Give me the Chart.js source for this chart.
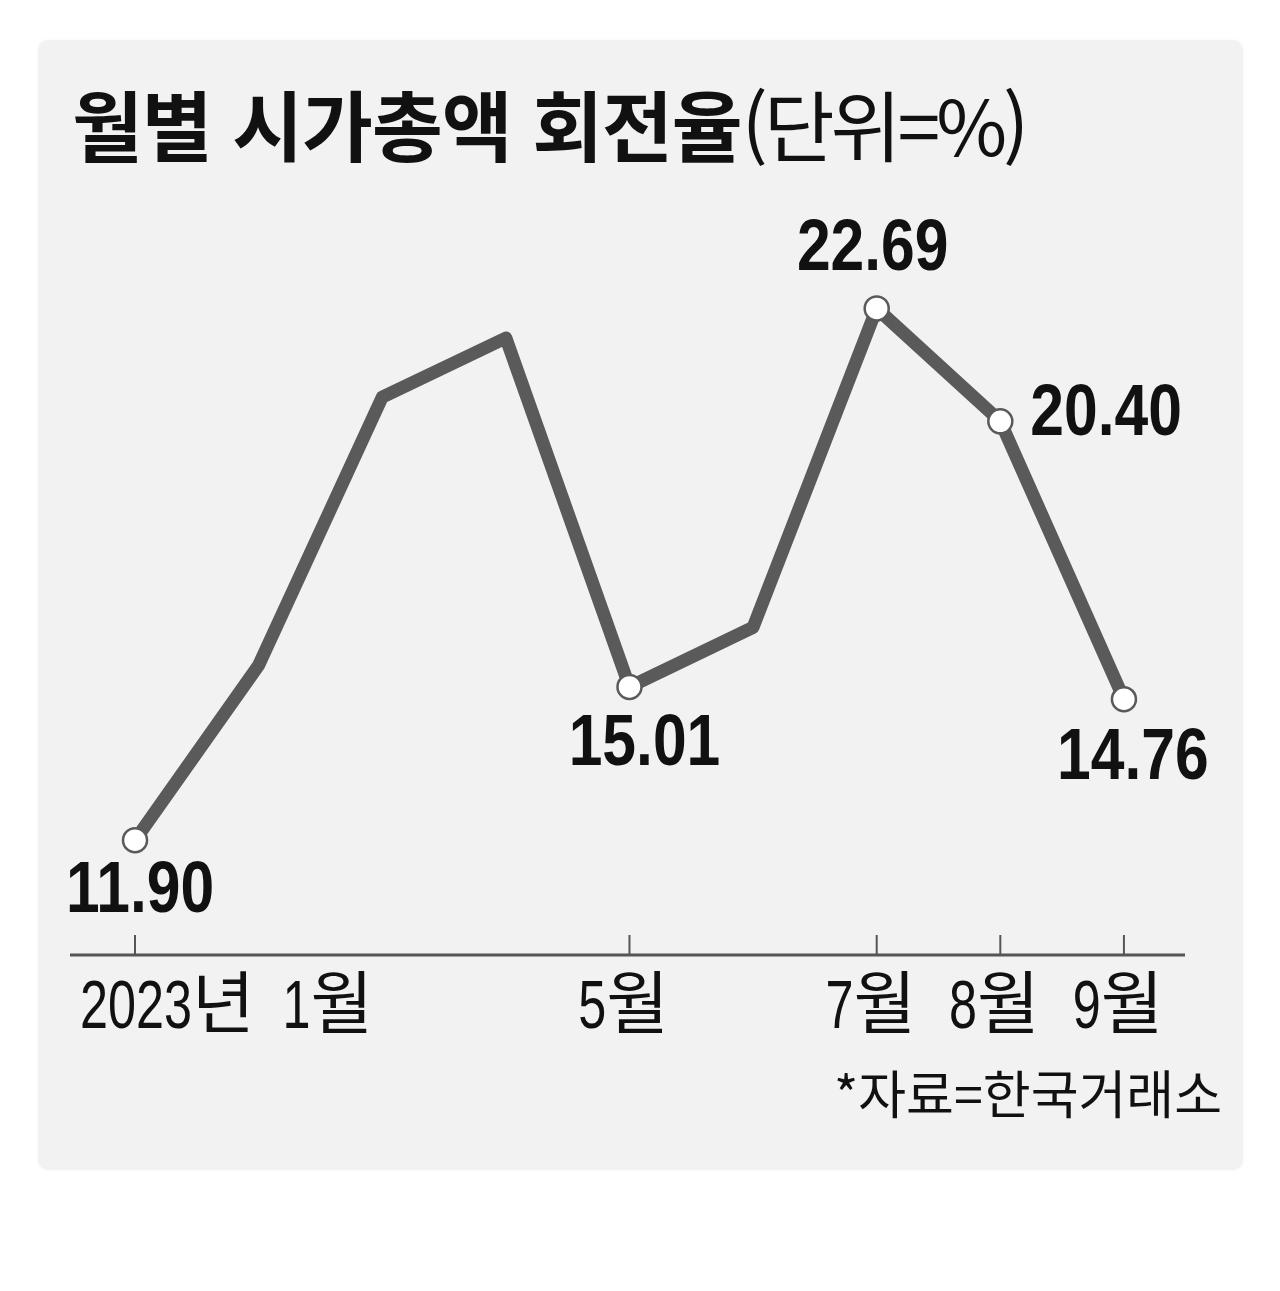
<!DOCTYPE html>
<html lang="ko">
<head>
<meta charset="utf-8">
<title>월별 시가총액 회전율</title>
<script src="https://cdn.jsdelivr.net/npm/chart.js@4"></script>
<style>
  html, body { margin: 0; padding: 0; background: #fff; }
  #wrap { position: relative; width: 1280px; height: 1291px; overflow: hidden; }
  #panel {
    position: absolute; left: 38px; top: 40px; width: 1205px; height: 1130px;
    background: #f2f2f2; border-radius: 10px; box-shadow: 0 0 4px #f6f6f6;
  }
  #title {
    position: absolute; left: 72px; top: 84px; margin: 0;
    font-family: "Noto Sans CJK KR", sans-serif; font-size: 77px; line-height: 1;
    font-weight: 700; color: #111; white-space: nowrap; letter-spacing: -1px;
  }
  #title span { font-weight: 400; letter-spacing: -4px; }
  #source {
    position: absolute; right: 58px; top: 1066px;
    font-family: "Noto Sans CJK KR", sans-serif; font-size: 52px; line-height: 1;
    color: #111; white-space: nowrap;
  }
  #chart { position: absolute; left: 0; top: 0; }
</style>
</head>
<body>
<div id="wrap">
  <div id="panel"></div>
  <h1 id="title">월별 시가총액 회전율<span>(단위=%)</span></h1>
  <div id="source">*자료=한국거래소</div>
  <canvas id="chart" width="1280" height="1291"></canvas>
</div>
<script>
const months = [1, 2, 3, 4, 5, 6, 7, 8, 9];
const turnover = [11.90, 15.45, 20.89, 22.09, 15.01, 16.22, 22.69, 20.40, 14.76];
const tickMonths = [1, 5, 7, 8, 9];
const tickLabels = ["2023년 1월", "5월", "7월", "8월", "9월"];
const labeledMonths = [1, 5, 7, 8, 9];

// where each value label sits relative to its point
const labelPlace = {
  1: { dx: 5, dy: 52, align: "center" },
  5: { dx: 15, dy: 58, align: "center" },
  7: { dx: -4, dy: -59, align: "center" },
  8: { dx: 30, dy: -6, align: "left" },
  9: { dx: 9, dy: 60, align: "center" },
};

const latinFace = '"Liberation Sans", Arial, sans-serif';
const cjkFace = '"Noto Sans CJK KR", sans-serif';

// digits get squeezed like a narrow face, hangul stays as is
function drawMixed(ctx, text, x, y, align, latinFont, squeeze, cjkFont, spaceExtra = 0) {
  const runs = text.match(/[\u0000-\u00ff]+|[^\u0000-\u00ff]+/g);
  const parts = runs.map((r) => {
    const latin = /^[\u0000-\u00ff]+$/.test(r);
    ctx.font = latin ? latinFont : cjkFont;
    const s = latin ? squeeze : 1;
    const lead = latin && r.startsWith(" ") ? spaceExtra : 0;
    return { r, font: ctx.font, s, lead, w: ctx.measureText(r).width * s + lead };
  });
  const total = parts.reduce((a, p) => a + p.w, 0);
  let cx = align === "center" ? x - total / 2 : align === "right" ? x - total : x;
  ctx.textAlign = "left";
  parts.forEach((p) => {
    ctx.save();
    ctx.font = p.font;
    ctx.translate(cx + p.lead, y);
    ctx.scale(p.s, 1);
    ctx.fillText(p.r, 0, 0);
    ctx.restore();
    cx += p.w;
  });
}

const decorPlugin = {
  id: "decor",
  afterDatasetsDraw(chart) {
    const { ctx, chartArea, scales } = chart;
    const x = scales.x;
    const base = chartArea.bottom;
    ctx.save();
    // axis line
    ctx.strokeStyle = "#555";
    ctx.lineWidth = 3;
    ctx.beginPath();
    ctx.moveTo(chartArea.left, base);
    ctx.lineTo(chartArea.right, base);
    ctx.stroke();
    // tick marks pointing up + labels
    ctx.lineWidth = 2;
    ctx.fillStyle = "#111";
    ctx.textBaseline = "alphabetic";
    const font1 = "400 68px " + latinFace;
    const font2 = "400 68px " + cjkFace;
    tickMonths.forEach((m, i) => {
      const px = x.getPixelForValue(m);
      ctx.beginPath();
      ctx.moveTo(px, base - 20);
      ctx.lineTo(px, base);
      ctx.stroke();
      if (i === 0) {
        drawMixed(ctx, tickLabels[i], px - 55, base + 73, "left", font1, 0.74, font2, 14);
      } else {
        drawMixed(ctx, tickLabels[i], px - 6, base + 73, "center", font1, 0.74, font2);
      }
    });
    // value labels
    const meta = chart.getDatasetMeta(0);
    ctx.textBaseline = "middle";
    labeledMonths.forEach((m) => {
      const idx = months.indexOf(m);
      const pt = meta.data[idx];
      const p = labelPlace[m];
      drawMixed(ctx, turnover[idx].toFixed(2), pt.x + p.dx, pt.y + p.dy, p.align,
        "700 73px " + latinFace, 0.83, "700 73px " + cjkFace);
    });
    ctx.restore();
  },
};

new Chart(document.getElementById("chart"), {
  type: "line",
  data: {
    datasets: [
      {
        data: months.map((m, i) => ({ x: m, y: turnover[i] })),
        borderColor: "#5a5a5a",
        borderWidth: 13,
        borderJoinStyle: "round",
        borderCapStyle: "round",
        tension: 0,
        pointRadius: months.map((m) => (labeledMonths.includes(m) ? 12 : 0)),
        pointBackgroundColor: "#fff",
        pointBorderColor: "#5a5a5a",
        pointBorderWidth: 2.5,
        fill: false,
      },
    ],
  },
  options: {
    responsive: false,
    animation: false,
    layout: { padding: { left: 70, right: 95, top: 200, bottom: 336 } },
    plugins: { legend: { display: false }, tooltip: { enabled: false }, title: { display: false } },
    scales: {
      x: { type: "linear", min: 0.474, max: 9.494, display: false },
      y: { min: 9.57, max: 24.89, display: false },
    },
  },
  plugins: [decorPlugin],
});
</script>
</body>
</html>
